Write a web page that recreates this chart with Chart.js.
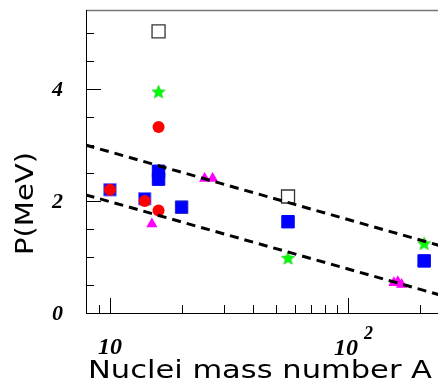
<!DOCTYPE html>
<html lang="en">
<head>
<meta charset="UTF-8">
<title>P(MeV) vs nuclei mass number</title>
<script src="https://cdn.jsdelivr.net/npm/chart.js"></script>
<style>
  html, body { margin: 0; padding: 0; background: #fff; }
</style>
</head>
<body>
<canvas id="chart" width="438" height="385"></canvas>
<script>
// values (A = mass number, P in MeV)
const blueSqA = [10, 14, 16, 16, 20, 56, 209];
const blueSqP = [2.2, 2.04, 2.53, 2.39, 1.89, 1.63, 0.93];
const openSqA = [16, 56];
const openSqP = [5.03, 2.08];
const redA = [10, 14, 16, 16];
const redP = [2.2, 2.0, 1.83, 3.32];
const starA = [16, 56, 209];
const starP = [3.96, 0.99, 1.25];
const triA = [15, 25, 27, 156, 162, 168];
const triP = [1.59, 2.40, 2.40, 0.54, 0.56, 0.51];

// dashed band edges
const lineA = [7.9, 240];
const upperP = [3.0, 1.21];
const lowerP = [2.11, 0.33];

// axes
const xMin = 7.93, xMax = 239;
const yMin = 0, yMax = 5.41;
const xMajor = [10, 100];
const xMajorText = ['10', '10'];
const xMajorExp = ['', '2'];
const xMinor = [9, 20, 30, 40, 50, 60, 70, 80, 90, 200];
const yMajor = [0, 2, 4];
const yMinor = [0.5, 1, 1.5, 2.5, 3, 3.5, 4.5, 5];
const xTitle = 'Nuclei mass number A';
const yTitle = 'P(MeV)';

const pts = (xs, ys) => xs.map((v, i) => ({x: v, y: ys[i]}));

function starImage(size, color) {
    const c = document.createElement('canvas');
    c.width = c.height = size;
    const g = c.getContext('2d');
    const R = size / 2 - 0.5, r = R * 0.45;
    g.beginPath();
    for (let i = 0; i < 10; i++) {
        const ang = -Math.PI / 2 + i * Math.PI / 5;
        const rad = i % 2 ? r : R;
        g.lineTo(size / 2 + rad * Math.cos(ang), size / 2 + 1 + rad * Math.sin(ang));
    }
    g.closePath();
    g.fillStyle = color;
    g.fill();
    g.strokeStyle = '#1fc01f';
    g.lineWidth = 0.6;
    g.stroke();
    return c;
}

// frame, inward ticks, tick labels and axis titles
const axisDecor = {
    id: 'axisDecor',
    beforeDatasetsDraw(chart) {
        const {ctx, chartArea: a, scales: {x, y}} = chart;
        ctx.save();
        ctx.strokeStyle = '#777';
        ctx.lineWidth = 1.5;
        ctx.beginPath();
        ctx.moveTo(a.left, a.top + 0.5);
        ctx.lineTo(a.right, a.top + 0.5);
        ctx.stroke();

        ctx.strokeStyle = '#000';
        ctx.lineWidth = 1;
        ctx.beginPath();
        ctx.moveTo(a.left + 0.5, a.top);
        ctx.lineTo(a.left + 0.5, a.bottom + 0.5);
        ctx.lineTo(a.right, a.bottom + 0.5);
        xMajor.forEach(v => {
            const px = Math.round(x.getPixelForValue(v)) + 0.5;
            ctx.moveTo(px, a.bottom); ctx.lineTo(px, a.bottom - 15);
        });
        xMinor.forEach(v => {
            const px = Math.round(x.getPixelForValue(v)) + 0.5;
            ctx.moveTo(px, a.bottom); ctx.lineTo(px, a.bottom - 8);
        });
        yMajor.forEach(v => {
            const py = Math.round(y.getPixelForValue(v)) + 0.5;
            ctx.moveTo(a.left, py); ctx.lineTo(a.left + 15, py);
        });
        yMinor.forEach(v => {
            const py = Math.round(y.getPixelForValue(v)) + 0.5;
            ctx.moveTo(a.left, py); ctx.lineTo(a.left + 8, py);
        });
        ctx.stroke();
        ctx.restore();
    },
    afterDraw(chart) {
        const {ctx, chartArea: a, scales: {x, y}} = chart;
        ctx.save();
        ctx.fillStyle = '#000';

        // y tick labels
        ctx.font = 'italic bold 22px "Liberation Serif"';
        ctx.textAlign = 'right';
        ctx.textBaseline = 'middle';
        yMajor.forEach(v => ctx.fillText(String(v), a.left - 23, y.getPixelForValue(v) + 1));

        // x tick labels, with exponent
        ctx.textBaseline = 'alphabetic';
        xMajor.forEach((v, i) => {
            const px = x.getPixelForValue(v);
            ctx.font = 'italic bold 24px "Liberation Serif"';
            ctx.textAlign = 'center';
            if (xMajorExp[i]) {
                ctx.fillText(xMajorText[i], px - 2, 355);
                ctx.font = 'italic bold 18px "Liberation Serif"';
                ctx.textAlign = 'left';
                ctx.fillText(xMajorExp[i], px + 16, 339);
            } else {
                ctx.fillText(xMajorText[i], px, 354);
            }
        });

        // axis titles, stretched to the width of the original lettering
        ctx.font = '24px "DejaVu Sans"';
        ctx.textAlign = 'left';
        let w = ctx.measureText(xTitle).width;
        ctx.save();
        ctx.translate(88, 378);
        ctx.scale(344 / w, 1);
        ctx.fillText(xTitle, 0, 0);
        ctx.restore();

        ctx.font = '25px "DejaVu Sans"';
        w = ctx.measureText(yTitle).width;
        ctx.save();
        ctx.translate(33, 255);
        ctx.rotate(-Math.PI / 2);
        ctx.scale(103 / w, 1);
        ctx.fillText(yTitle, 0, 0);
        ctx.restore();

        ctx.restore();
    }
};

const dashed = {
    showLine: true,
    borderColor: '#000',
    borderWidth: 3,
    borderDash: [9, 6],
    pointRadius: 0,
    fill: false
};

const ctx = document.getElementById('chart').getContext('2d');

new Chart(ctx, {
    type: 'scatter',
    data: {
        datasets: [
            Object.assign({data: pts(lineA, upperP)}, dashed),
            Object.assign({data: pts(lineA, lowerP)}, dashed),
            {
                data: pts(redA, redP),
                pointStyle: 'circle',
                pointRadius: 6,
                backgroundColor: '#ff0000',
                borderColor: '#ff0000',
                borderWidth: 0
            },
            {
                data: pts(starA, starP),
                pointStyle: starImage(15, '#00ff00')
            },
            {
                data: pts(triA, triP),
                pointStyle: 'triangle',
                pointRadius: 6.5,
                backgroundColor: '#ff00ff',
                borderColor: '#ff00ff',
                borderWidth: 0
            },
            {
                data: pts(openSqA, openSqP),
                pointStyle: 'rect',
                pointRadius: 9.2,
                backgroundColor: '#fff',
                borderColor: '#333',
                borderWidth: 1.3
            },
            {
                data: pts(blueSqA, blueSqP),
                pointStyle: 'rect',
                pointRadius: 8.8,
                backgroundColor: '#0000ff',
                borderColor: ['#7a7aff', '#7a7aff', '#0000ff', '#0000ff', '#2020c0', '#0000ff', '#0000ff'],
                borderWidth: 1
            }
        ]
    },
    options: {
        responsive: false,
        devicePixelRatio: 1,
        animation: false,
        events: [],
        layout: { autoPadding: false, padding: { top: 10, left: 0, right: 0, bottom: 0 } },
        plugins: {
            legend: { display: false },
            tooltip: { enabled: false },
            title: { display: false }
        },
        scales: {
            x: {
                type: 'logarithmic',
                bounds: 'data',
                min: xMin,
                max: xMax,
                ticks: { display: false },
                grid: { display: false, drawTicks: false },
                border: { display: false },
                afterFit: s => { s.height = 72; }
            },
            y: {
                type: 'linear',
                bounds: 'data',
                min: yMin,
                max: yMax,
                ticks: { display: false },
                grid: { display: false, drawTicks: false },
                border: { display: false },
                afterFit: s => { s.width = 86; }
            }
        }
    },
    plugins: [axisDecor]
});
</script>
</body>
</html>
